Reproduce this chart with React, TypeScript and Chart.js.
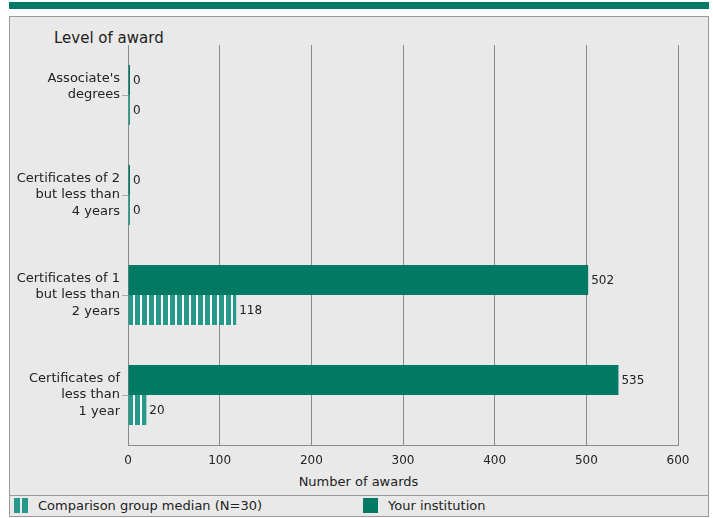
import React, { useEffect, useRef } from "react";
import { Chart, registerables } from "chart.js";

Chart.register(...registerables);

const categories: string[][] = [
  ["Associate's", "degrees", ""],
  ["Certificates of 2", "but less than", "4 years"],
  ["Certificates of 1", "but less than", "2 years"],
  ["Certificates of", "less than", "1 year"],
];
const yourInstitution: number[] = [0, 0, 502, 535];
const comparisonMedian: number[] = [0, 0, 118, 20];
const xTicks: number[] = [0, 100, 200, 300, 400, 500, 600];

const DARK = "#007A64";
const LIGHT = "#27998A";
const FONT = "'DejaVu Sans', Verdana, sans-serif";
const TEXT = "#222222";

export default function App() {
  const ref = useRef<HTMLCanvasElement | null>(null);

  useEffect(() => {
    document.body.style.margin = "0";
    document.body.style.overflow = "hidden";
    const canvas = ref.current!;
    const pc = document.createElement("canvas");
    pc.width = 7;
    pc.height = 4;
    const pctx = pc.getContext("2d")!;
    pctx.fillStyle = "#ffffff";
    pctx.fillRect(0, 0, 7, 4);
    pctx.fillStyle = LIGHT;
    pctx.fillRect(0, 0, 5, 4);
    const pattern = canvas.getContext("2d")!.createPattern(pc, "repeat")!;

    const patternPlugin = {
      id: "patternAnchor",
      beforeDatasetsDraw(chart: any) {
        try {
          pattern.setTransform(new DOMMatrix().translateSelf(chart.chartArea.left, 0));
        } catch (e) {}
      },
    };

    const labelPlugin = {
      id: "valueLabels",
      afterDatasetsDraw(chart: any) {
        const ctx = chart.ctx;
        ctx.save();
        ctx.font = `12px ${FONT}`;
        ctx.fillStyle = TEXT;
        ctx.textAlign = "left";
        ctx.textBaseline = "middle";
        chart.data.datasets.forEach((ds: any, di: number) => {
          const meta = chart.getDatasetMeta(di);
          meta.data.forEach((el: any, i: number) => {
            ctx.fillText(String(ds.data[i]), el.x + 3, el.y + 1);
          });
        });
        ctx.restore();
      },
    };

    const chart = new Chart(canvas, {
      type: "bar",
      data: {
        labels: categories as any,
        datasets: [
          {
            label: "Your institution",
            data: yourInstitution,
            backgroundColor: DARK,
            borderWidth: 0,
            minBarLength: 2,
          },
          {
            label: "Comparison group median (N=30)",
            data: comparisonMedian,
            backgroundColor: pattern as any,
            borderWidth: 0,
            minBarLength: 2,
          },
        ],
      },
      options: {
        indexAxis: "y",
        responsive: false,
        animation: false,
        events: [],
        datasets: { bar: { categoryPercentage: 0.6, barPercentage: 1.0 } },
        layout: { padding: { left: 0, right: 35, top: 45, bottom: 0 } },
        plugins: { legend: { display: false }, tooltip: { enabled: false }, title: { display: false } },
        scales: {
          x: {
            type: "linear",
            min: xTicks[0],
            max: xTicks[xTicks.length - 1],
            afterBuildTicks: (scale: any) => {
              scale.ticks = xTicks.map((v) => ({ value: v }));
            },
            afterFit: (scale: any) => {
              scale.height = 73;
            },
            ticks: { font: { family: FONT, size: 12 }, color: TEXT, padding: 9 },
            grid: { color: "#8a8a8a", drawTicks: false, lineWidth: 1 },
            border: { color: "#8a8a8a" },
          },
          y: {
            afterFit: (scale: any) => {
              scale.width = 128;
            },
            ticks: { font: { family: FONT, size: 13, lineHeight: 1.27 }, color: TEXT, padding: 2 },
            grid: { drawOnChartArea: false, drawTicks: true, tickLength: 6, color: "#aaaaaa", offset: false },
            border: { color: "#8a8a8a" },
          },
        },
      } as any,
      plugins: [patternPlugin, labelPlugin],
    });
    return () => chart.destroy();
  }, []);

  const textStyle: React.CSSProperties = {
    position: "absolute",
    fontFamily: FONT,
    color: TEXT,
    whiteSpace: "nowrap",
  };

  return (
    <div style={{ position: "relative", width: 713, height: 518, background: "#ffffff", overflow: "hidden" }}>
      <div style={{ position: "absolute", left: 9, top: 2, width: 700, height: 7, background: DARK }} />
      <div
        style={{
          position: "absolute",
          left: 9,
          top: 16,
          width: 698,
          height: 499,
          background: "#E9E9E9",
          border: "1px solid #9a9a9a",
        }}
      />
      <div style={{ position: "absolute", left: 10, top: 495, width: 698, height: 1, background: "#9a9a9a" }} />
      <div style={{ ...textStyle, left: 54, top: 29, fontSize: 15 }}>Level of award</div>
      <div style={{ ...textStyle, left: 9, width: 699, top: 474, fontSize: 13, textAlign: "center" }}>Number of awards</div>
      <div style={{ position: "absolute", left: 14, top: 498, width: 6, height: 15, background: LIGHT }} />
      <div style={{ position: "absolute", left: 22, top: 498, width: 6, height: 15, background: LIGHT }} />
      <div style={{ ...textStyle, left: 38, top: 498, fontSize: 13 }}>Comparison group median (N=30)</div>
      <div style={{ position: "absolute", left: 363, top: 498, width: 15, height: 15, background: DARK }} />
      <div style={{ ...textStyle, left: 388, top: 498, fontSize: 13 }}>Your institution</div>
      <canvas ref={ref} width={713} height={518} style={{ position: "absolute", left: 0, top: 0 }} />
    </div>
  );
}
